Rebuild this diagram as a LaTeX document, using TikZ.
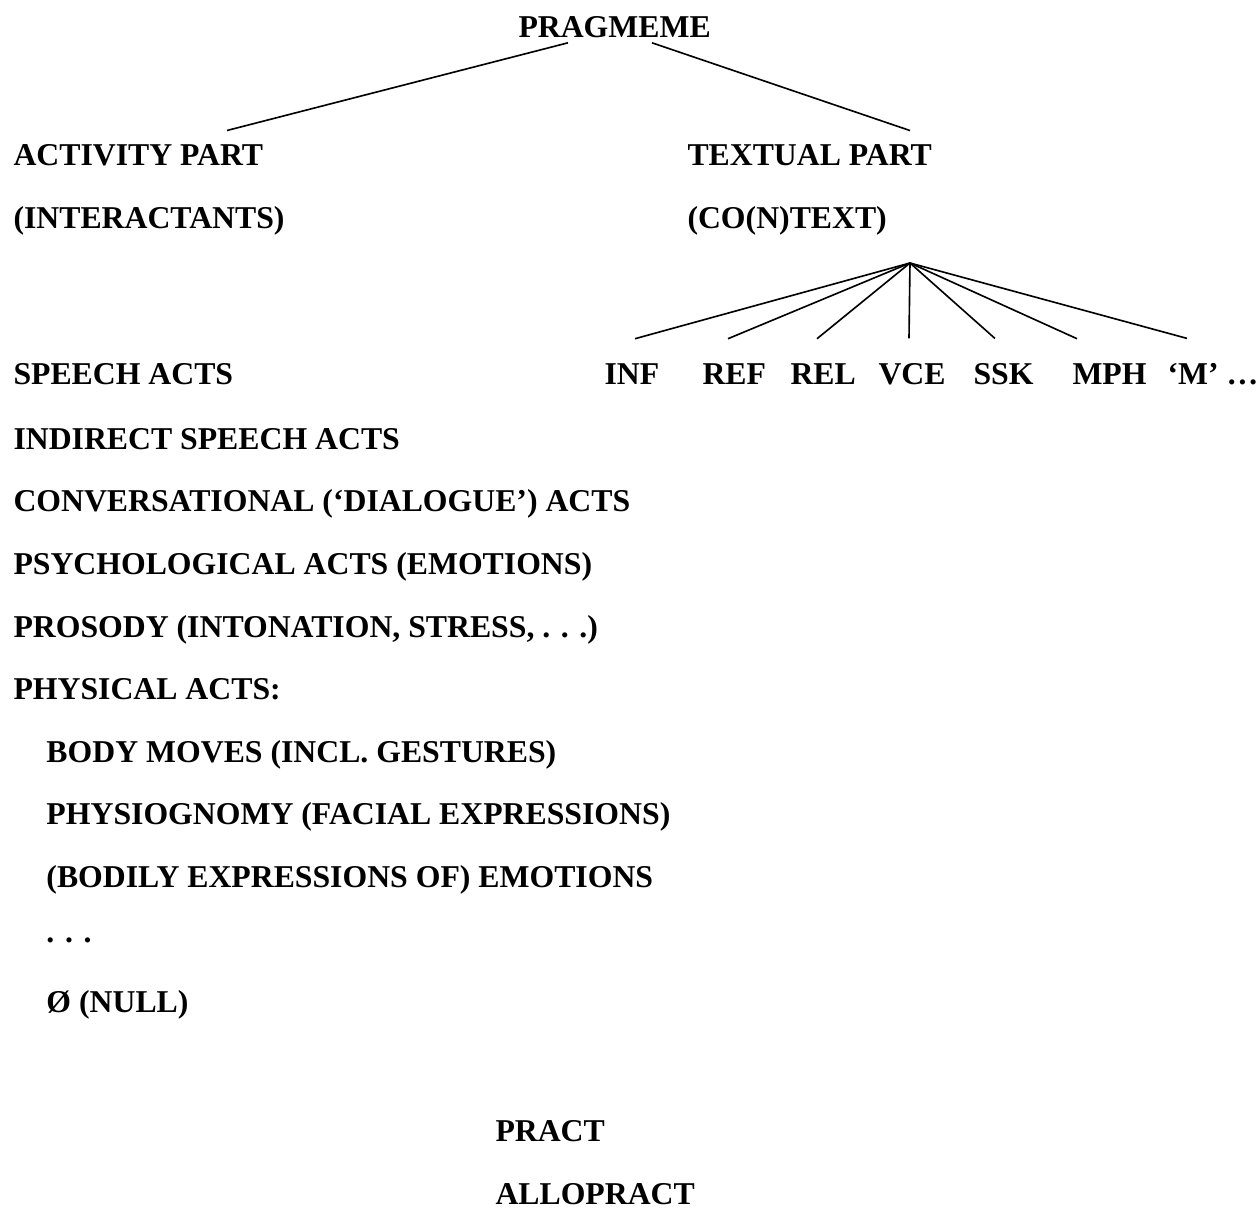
\documentclass[tikz,border=0pt]{standalone}
\usepackage{fontspec}
\setmainfont{Liberation Serif}
\usepackage{tikz}

\begin{document}
\begin{tikzpicture}[x=0.4pt, y=-0.4pt,
  lbl/.style={anchor=base west, inner sep=0pt, font=\fontsize{12.7pt}{15pt}\selectfont\bfseries},
  edge/.style={line width=0.65pt}]
\useasboundingbox (0,0) rectangle (1256,1209);
%%% Draws top of the tree
% places labels
\node[lbl] (prag) at (518,37) {PRAGMEME};
\node[lbl] (act) at (13,165) {ACTIVITY PART};
\node[lbl] (inter) at (13,228) {(INTERACTANTS)};
\node[lbl] (txt) at (687,165) {TEXTUAL PART};
\node[lbl] (cotext) at (687,228) {(CO(N)TEXT)};
% draws edges
\draw[edge] ([shift={(50,5)}]prag.south west) to ([shift={(214,-13)}]act.north west);
\draw[edge] ([shift={(134,5)}]prag.south west) to ([shift={(223,-13)}]txt.north west);
%%% Draws textual fan
% places labels
\coordinate (hub) at (910,263);
\node[lbl] (inf) at (604,384) {INF};
\node[lbl] (ref) at (702,384) {REF};
\node[lbl] (rel) at (790,384) {REL};
\node[lbl] (vce) at (878,384) {VCE};
\node[lbl] (ssk) at (973,384) {SSK};
\node[lbl] (mph) at (1072,384) {MPH};
\node[lbl] (mm) at (1167,384) {‘M’ …};
% draws edges
\draw[edge] (hub) to ([shift={(31,-24)}]inf.north west);
\draw[edge] (hub) to ([shift={(26,-24)}]ref.north west);
\draw[edge] (hub) to ([shift={(27,-24)}]rel.north west);
\draw[edge] (hub) to ([shift={(31,-24)}]vce.north west);
\draw[edge] (hub) to ([shift={(22,-24)}]ssk.north west);
\draw[edge] (hub) to ([shift={(5,-24)}]mph.north west);
\draw[edge] (hub) to ([shift={(20,-24)}]mm.north west);
%%% Draws activity list
\node[lbl] (sa) at (13,384) {SPEECH ACTS};
\node[lbl] (isa) at (13,449) {INDIRECT SPEECH ACTS};
\node[lbl] (conv) at (13,511) {CONVERSATIONAL (‘DIALOGUE’) ACTS};
\node[lbl] (psy) at (13,574) {PSYCHOLOGICAL ACTS (EMOTIONS)};
\node[lbl] (pros) at (13,637) {PROSODY (INTONATION, STRESS, . . .)};
\node[lbl] (phys) at (13,699) {PHYSICAL ACTS:};
\node[lbl] (body) at (46,762) {BODY MOVES (INCL. GESTURES)};
\node[lbl] (physio) at (46,824) {PHYSIOGNOMY (FACIAL EXPRESSIONS)};
\node[lbl] (emo) at (46,887) {(BODILY EXPRESSIONS OF) EMOTIONS};
\node[lbl] (dots) at (46,942) {. . .};
\node[lbl] (null) at (46,1012) {Ø (NULL)};
%%% Draws bottom labels
\node[lbl] (pract) at (495,1141) {PRACT};
\node[lbl] (allo) at (495,1204) {ALLOPRACT};
\end{tikzpicture}
\end{document}
